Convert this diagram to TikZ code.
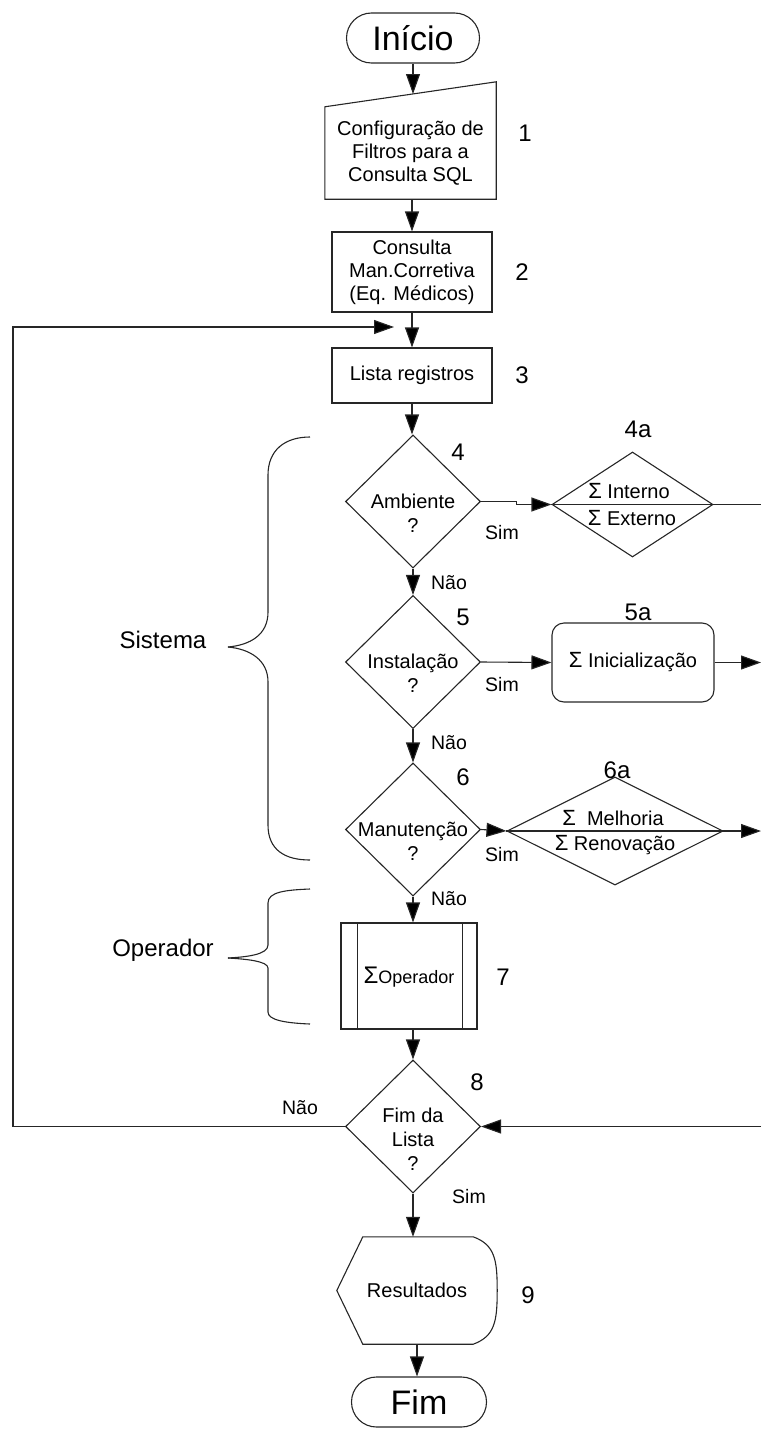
\documentclass[tikz,border=0pt]{standalone}
\usepackage{fontspec}
\setmainfont{Liberation Sans}
\usetikzlibrary{shapes.geometric,arrows.meta,calc}
\tikzset{
  ln/.style={line width=1.1pt, draw=black!85},
  arr/.style={ln, -{Triangle[length=20pt,width=14pt,fill=black]}},
  txt/.style={inner sep=0pt, align=center, font=\fontsize{20}{24}\selectfont},
  num/.style={inner sep=0pt, font=\fontsize{24}{28}\selectfont},
  lab/.style={inner sep=0pt, font=\fontsize{19.5}{22}\selectfont},
  term/.style={ln, draw, rounded corners=25pt, minimum width=133pt, minimum height=50pt, inner sep=0pt, font=\fontsize{34}{38}\selectfont},
  boxn/.style={ln, draw, minimum width=160pt, inner sep=0pt, align=center, font=\fontsize{20}{23}\selectfont},
  dec/.style={ln, draw, diamond, aspect=1, inner sep=0pt, minimum width=135pt, minimum height=133pt}
}
\begin{document}
\begin{tikzpicture}[x=1pt,y=-1pt]
\useasboundingbox (0,0) rectangle (761,1429);

% Start
\node[term] (ini) at (413,38) {Início};

% 1 manual input
\node[inner sep=0pt, minimum width=171pt, minimum height=92pt, align=center, font=\fontsize{20}{23}\selectfont] (cfg) at (410.5,153) {Configuração de\\Filtros para a\\Consulta SQL};
\draw[ln] (cfg.south west) -- (cfg.south east) -- ($(cfg.north east)+(0,-25)$) -- (cfg.north west) -- cycle;
\coordinate (cfgin) at (413,94);
\draw[arr] (ini.south) -- (cfgin);
\node[num] (n1) at (525,133) {1};

% 2
\node[boxn, minimum height=80pt] (cons) at (412,272) {Consulta\\Man.Corretiva\\(Eq. Médicos)};
\draw[arr] (cons.north |- cfg.south) -- (cons.north);
\node[num] (n2) at (522,272) {2};

% 3
\node[boxn, minimum height=55pt] (lst) at (412,375.5) {Lista registros};
\draw[arr] (cons.south) -- (lst.north);
\node[num] (n3) at (522,375) {3};

% 4
\node[dec] (d4) at (413,501.5) {};
\node[txt] (t4) at ($(d4.center)+(0,12)$) {Ambiente\\?};
\draw[arr] (lst.south) -- (lst.south |- d4.north);
\node[num] (n4) at (458,452) {4};
\node[dec, minimum width=161pt, minimum height=105pt] (d4a) at (632.5,504.5) {};
\coordinate (r4) at (761,504.5);
\draw[ln] (d4a.west) -- (d4a.east) -- (r4);
\node[txt] (t4a1) at (629,491) {{\fontsize{22}{24}\selectfont Σ} Interno};
\node[txt] (t4a2) at (632,518) {{\fontsize{22}{24}\selectfont Σ} Externo};
\node[num] (n4a) at (638,429) {4a};
\draw[arr] (d4.east) -- ++(35,0) |- (d4a.west);
\node[lab] (s4) at (502,533) {Sim};
\node[lab] (nao4) at (449,583) {Não};

% 5
\node[dec] (d5) at (413,662) {};
\node[txt] (t5) at ($(d5.center)+(0,11)$) {Instalação\\?};
\draw[arr] (d4.south) -- (d5.north);
\node[num] (n5) at (463,617) {5};
\node[ln, draw, rounded corners=12pt, minimum width=162pt, minimum height=79pt, font=\fontsize{20}{24}\selectfont] (b5a) at (633,662.5) {{\fontsize{22}{24}\selectfont Σ} Inicialização};
\node[num] (n5a) at (638,612) {5a};
\draw[arr] (d5.east) -- (b5a.west);
\coordinate (r5) at (761,662.5);
\draw[arr] (b5a.east) -- (r5);
\node[lab] (s5) at (502,685) {Sim};
\node[lab] (nao5) at (449,743) {Não};

% 6
\node[dec] (d6) at (413,829.5) {};
\node[txt] (t6) at ($(d6.center)+(0,12)$) {Manutenção\\?};
\draw[arr] (d5.south) -- (d6.north);
\node[num] (n6) at (463,777) {6};
\node[dec, minimum width=216pt, minimum height=108pt] (d6a) at (615,831) {};
\draw[ln] (d6a.west) -- (d6a.east);
\node[txt] (t6a1) at (613,818) {{\fontsize{22}{24}\selectfont Σ}\ \ Melhoria};
\node[txt] (t6a2) at (615,845) {{\fontsize{22}{24}\selectfont Σ} Renovação};
\node[num] (n6a) at (617,770) {6a};
\draw[arr] (d6.east) -- (d6a.west);
\coordinate (r6) at (761,831);
\draw[arr] (d6a.east) -- (r6);
\node[lab] (s6) at (502,855) {Sim};
\node[lab] (nao6) at (449,899) {Não};

% 7
\node[ln, draw, minimum width=136pt, minimum height=106pt] (b7) at (409,976) {};
\draw[ln] ($(b7.north west)+(17,0)$) -- ($(b7.south west)+(17,0)$);
\draw[ln] ($(b7.north east)+(-15,0)$) -- ($(b7.south east)+(-15,0)$);
\node[inner sep=0pt, font=\fontsize{18}{22}\selectfont] (t7) at (409,977) {{\fontsize{24}{26}\selectfont Σ}Operador};
\draw[arr] (d6.south) -- (d6.south |- b7.north);
\node[num] (n7) at (503,977) {7};

% 8
\node[dec] (d8) at (413,1126.5) {};
\node[txt] (t8) at ($(d8.center)+(0,13)$) {Fim da\\Lista\\?};
\draw[arr] (d8.north |- b7.south) -- (d8.north);
\node[num] (n8) at (477,1082) {8};
\coordinate (r8) at (761,1126.5);
\draw[arr] (r8) -- (d8.east);
\coordinate (lt) at (13,327);
\coordinate (lend) at (394,327);
\draw[arr] (d8.west) -| (lt) -- (lend);
\node[lab] (nao8) at (300,1108) {Não};
\node[lab] (s8) at (469,1197) {Sim};

% 9
\node[inner sep=0pt, minimum width=160pt, minimum height=107pt, font=\fontsize{20}{24}\selectfont] (res) at (417,1290.5) {Resultados};
\draw[ln] (res.west) -- ($(res.north west)+(26,0)$) -- ($(res.north east)+(-24,0)$)
  .. controls ($(res.north east)+(-2,8)$) and ($(res.east)+(0,-30)$) .. (res.east)
  .. controls ($(res.east)+(0,30)$) and ($(res.south east)+(-2,-8)$) .. ($(res.south east)+(-24,0)$)
  -- ($(res.south west)+(26,0)$) -- cycle;
\draw[arr] (d8.south) -- (d8.south |- res.north);
\node[num] (n9) at (528,1295) {9};

% End
\node[term, minimum width=135pt] (fim) at (419,1402) {Fim};
\draw[arr] (res.south) -- (res.south |- fim.north);

% Braces
\node[inner sep=0pt, font=\fontsize{24}{28}\selectfont] (sis) at (163,640) {Sistema};
\draw[ln] (310,437) .. controls (285,437) and (268,450) .. (268,475) -- (268,612) .. controls (268,635) and (250,645) .. (228,647);
\draw[ln] (228,647) .. controls (250,649) and (268,660) .. (268,682) -- (268,825) .. controls (268,850) and (285,860) .. (310,860);
\node[inner sep=0pt, font=\fontsize{24}{28}\selectfont] (op) at (163,950) {Operador};
\draw[ln] (310,889) .. controls (285,890) and (268,892) .. (268,903) -- (268,945) .. controls (268,955) and (245,957) .. (228,958);
\draw[ln] (228,958) .. controls (245,959) and (268,961) .. (268,968) -- (268,1012) .. controls (268,1020) and (285,1023) .. (310,1024);
\end{tikzpicture}
\end{document}
